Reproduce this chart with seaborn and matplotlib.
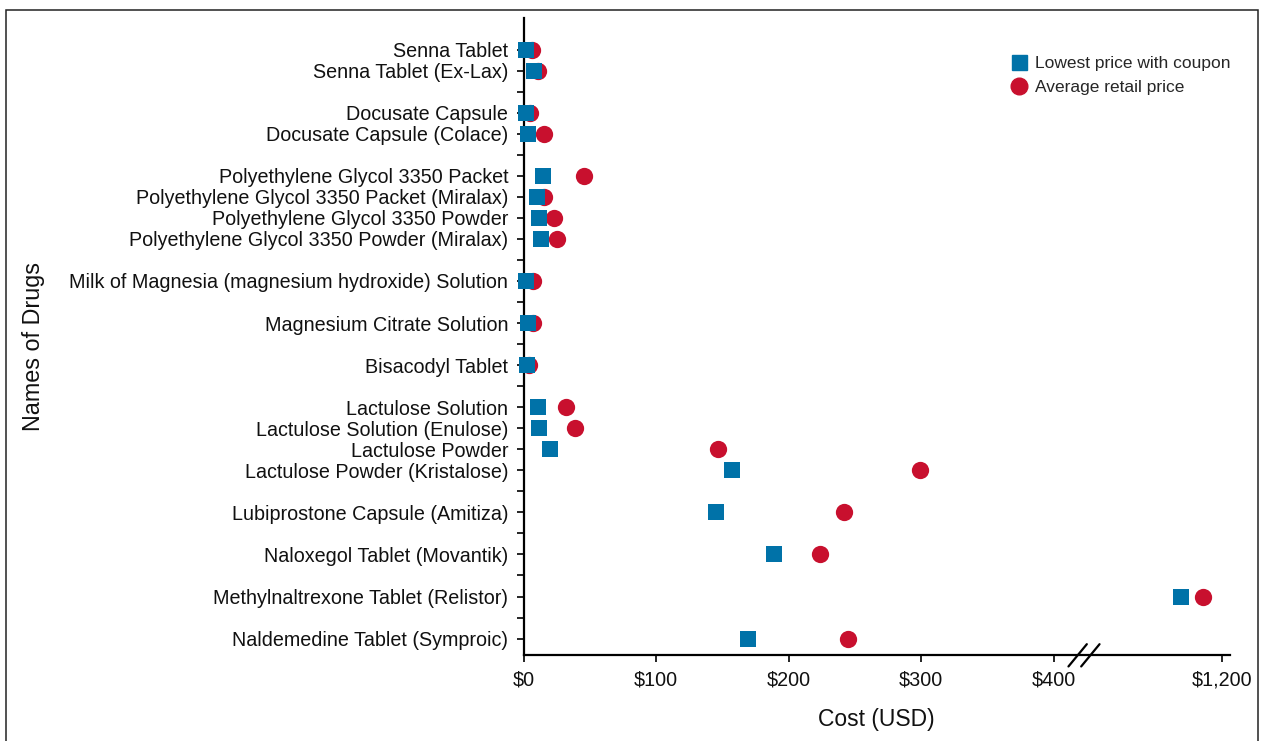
import numpy as np
import pandas as pd
import seaborn as sns
import matplotlib.pyplot as plt
from matplotlib.lines import Line2D
from matplotlib.patches import Rectangle

sns.set_theme(style="white")
plt.rcParams["font.family"] = ["Liberation Sans", "DejaVu Sans"]

# drugs in display order, grouped (a blank row sits between groups)
groups = [
    ["Senna Tablet", "Senna Tablet (Ex-Lax)"],
    ["Docusate Capsule", "Docusate Capsule (Colace)"],
    ["Polyethylene Glycol 3350 Packet", "Polyethylene Glycol 3350 Packet (Miralax)",
     "Polyethylene Glycol 3350 Powder", "Polyethylene Glycol 3350 Powder (Miralax)"],
    ["Milk of Magnesia (magnesium hydroxide) Solution"],
    ["Magnesium Citrate Solution"],
    ["Bisacodyl Tablet"],
    ["Lactulose Solution", "Lactulose Solution (Enulose)", "Lactulose Powder",
     "Lactulose Powder (Kristalose)"],
    ["Lubiprostone Capsule (Amitiza)"],
    ["Naloxegol Tablet (Movantik)"],
    ["Methylnaltrexone Tablet (Relistor)"],
    ["Naldemedine Tablet (Symproic)"],
]

lowest_coupon = [2.1, 7.9, 1.6, 3.6, 15, 10.4, 12, 13, 1.6, 3.6, 2.9,
                 11.2, 12, 20, 157, 145.2, 189, 1169, 169.3]
avg_retail = [6.5, 11, 4.7, 15.5, 46, 15.7, 23.2, 25, 6.8, 7.3, 4.3,
              32.3, 38.6, 147, 299, 242, 223.4, 1185, 245]

x_ticks = [0, 100, 200, 300, 400, 1200]
x_ticklabels = ["$0", "$100", "$200", "$300", "$400", "$1,200"]

LOW_NAME = "Lowest price with coupon"
AVG_NAME = "Average retail price"
BLUE = "#0072A8"
RED = "#C8102E"

# row numbers with a gap between groups
drugs, rows = [], []
r = 0
for g in groups:
    for d in g:
        drugs.append(d)
        rows.append(r)
        r += 1
    r += 1
n_rows = rows[-1]

df = pd.DataFrame({
    "drug": drugs * 2,
    "row": rows * 2,
    "cost": lowest_coupon + avg_retail,
    "kind": [LOW_NAME] * len(drugs) + [AVG_NAME] * len(drugs),
})

# broken axis: 0-423 linear, then jump so that 1200 sits just past 400
BREAK_LO = 423.0
OFFSET = 672.5


def fwd(x):
    x = np.asarray(x, dtype=float)
    return np.where(x <= BREAK_LO, x, np.where(x >= BREAK_LO + OFFSET, x - OFFSET, BREAK_LO))


def inv(y):
    y = np.asarray(y, dtype=float)
    return np.where(y <= BREAK_LO, y, y + OFFSET)


fig = plt.figure(figsize=(12.61, 7.41), dpi=100)
ax = fig.add_axes([523.5 / 1261, 86 / 741, 706.5 / 1261, 637 / 741])
ax.set_xscale("function", functions=(fwd, inv))

sns.scatterplot(data=df[df["kind"] == AVG_NAME], x="cost", y="row", ax=ax,
                marker="o", color=RED, s=155, linewidth=0, legend=False, zorder=3)
sns.scatterplot(data=df[df["kind"] == LOW_NAME], x="cost", y="row", ax=ax,
                marker="s", color=BLUE, s=120, linewidth=0, legend=False, zorder=4)
for c in ax.collections:
    c.set_clip_on(False)

ax.set_xlim(0, 533.2 + OFFSET)
ax.set_ylim(n_rows + 0.78, -1.5)

ax.set_yticks(range(n_rows + 1))
ylabels = [""] * (n_rows + 1)
for d, rr in zip(drugs, rows):
    ylabels[rr] = d
ax.set_yticklabels(ylabels, fontsize=14.2)
ax.set_xticks(x_ticks)
ax.set_xticklabels(x_ticklabels, fontsize=14.2)
ax.xaxis.set_minor_locator(plt.NullLocator())

ax.tick_params(axis="both", direction="out", length=5, width=1.2, color="black",
               labelcolor="#111111")
ax.tick_params(axis="y", left=True, pad=6)
ax.tick_params(axis="x", bottom=True, pad=6.5)
for side in ["top", "right"]:
    ax.spines[side].set_visible(False)
for side in ["left", "bottom"]:
    ax.spines[side].set_color("black")
    ax.spines[side].set_linewidth(1.6)

ax.set_xlabel("Cost (USD)", fontsize=16.5, color="#111111", labelpad=13)
ax.set_ylabel("Names of Drugs", fontsize=16.8, color="#111111")
ax.yaxis.set_label_coords(-0.677, 0.485)

# break marks on the x axis
bx = (1084 - 523.5) / 706.5
for dx in (-0.009, 0.009):
    ax.plot([bx + dx - 0.013, bx + dx + 0.013], [-0.018, 0.017], color="black",
            lw=1.6, transform=ax.transAxes, clip_on=False, zorder=5)

handles = [
    Line2D([], [], marker="s", color=BLUE, linestyle="none", markersize=10.8),
    Line2D([], [], marker="o", color=RED, linestyle="none", markersize=12),
]
ax.legend(handles, [LOW_NAME, AVG_NAME], loc="upper left", bbox_to_anchor=(0.689, 0.941),
          frameon=False, fontsize=12.5, handlelength=1.0, handletextpad=0.4,
          labelspacing=0.55, borderpad=0, borderaxespad=0)

# thin frame around the whole figure
fig.patches.append(Rectangle((6 / 1261, -0.05), 1252 / 1261, 731 / 741 + 0.05,
                             transform=fig.transFigure, fill=False,
                             edgecolor="#222222", linewidth=1.1))

fig.savefig("out.png", dpi=100)
